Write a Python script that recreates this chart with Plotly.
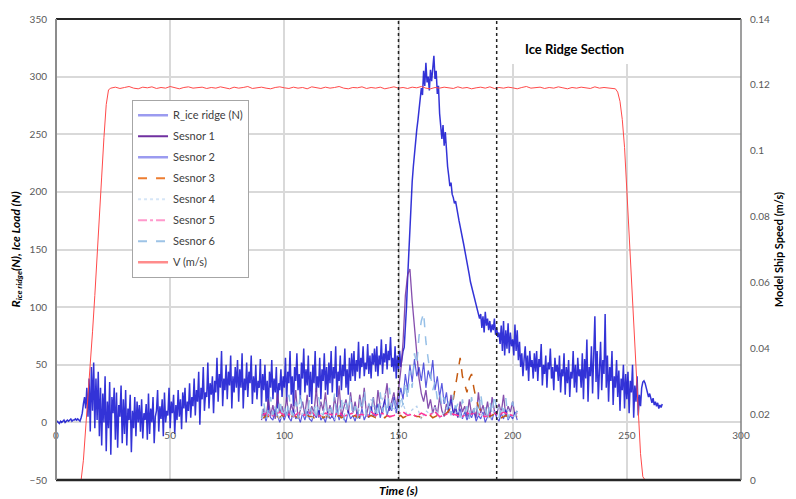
import numpy as np
import plotly.graph_objects as go

# ---------------- data ----------------
# R_ice ridge (N), sampled every 0.5 s starting at t = 0 (one row = 10 s)
R_ridge = [
    0, 1, 0, -1, 1, 0, 1, 2, 0, 1, 2, 1, 2, 3, 1, 2, 2, 3, 2, 3,
    2, 1, 4, 8, 16, 22, 12, 30, 5, 38, -8, 48, 10, 52, -5, 38, 2, 44, -12, 30,
    -20, 25, 0, 40, -25, 18, -5, 35, -28, 22, 8, 30, -15, 26, -22, 15, 5, 32, -18, 20,
    -10, 28, -20, 12, 2, 24, -26, 10, -5, 22, -12, 18, 0, 15, -8, 20, -14, 8, 2, 16,
    -15, 25, -10, 12, 0, 22, -18, 5, 10, 28, -8, 14, 3, 20, -12, 26, 0, 10, 6, 30,
    -5, 18, 8, 24, -10, 15, 2, 28, 5, 20, -6, 26, 12, 30, 0, 18, 10, 34, 4, 22,
    14, 38, 6, 28, 18, 44, -2, 30, 20, 48, 10, 26, 22, 52, 12, 34, 24, 40, 8, 36,
    26, 56, 18, 42, 30, 62, 14, 38, 28, 50, 20, 44, 32, 58, 12, 40, 26, 48, 30, 54,
    18, 46, 30, 60, 12, 38, 28, 52, 22, 44, 34, 58, 16, 40, 26, 50, 20, 36, 30, 55,
    14, 42, 28, 50, 18, 36, 10, 44, 30, 54, 20, 38, 26, 48, 12, 34, 28, 46, 22, 40,
    30, 56, 18, 44, 34, 62, 24, 40, 14, 48, 36, 60, 28, 42, 20, 52, 38, 64, 26, 46,
    32, 58, 22, 44, 16, 50, 34, 62, 26, 40, 30, 56, 20, 46, 36, 60, 28, 48, 24, 52,
    34, 62, 26, 48, 38, 66, 22, 44, 36, 58, 28, 50, 40, 64, 30, 46, 24, 56, 36, 60,
    40, 62, 36, 54, 44, 70, 38, 56, 48, 66, 40, 52, 46, 68, 42, 58, 38, 60, 50, 64,
    44, 66, 40, 58, 50, 72, 42, 60, 52, 68, 46, 62, 54, 74, 48, 56, 44, 66, 38, 58,
    46, 62, 48, 58, 62, 65, 80, 100, 125, 148, 165, 190, 209, 222, 235, 245, 254, 262, 270, 278,
    290, 284, 305, 292, 312, 295, 300, 288, 306, 296, 312, 318, 298, 305, 285, 292, 268, 252, 246, 258,
    240, 252, 232, 222, 214, 205, 208, 198, 195, 190, 192, 185, 180, 175, 170, 166, 160, 155, 150, 146,
    140, 134, 128, 122, 118, 113, 108, 104, 100, 96, 94, 90, 94, 82, 92, 78, 96, 84, 90, 80,
    88, 78, 85, 80, 90, 76, 82, 74, 78, 68, 84, 62, 88, 58, 80, 64, 86, 60, 78, 66,
    72, 58, 85, 62, 80, 54, 70, 48, 60, 40, 55, 66, 45, 58, 36, 62, 48, 54, 38, 60,
    44, 62, 36, 55, 48, 68, 32, 50, 42, 58, 30, 52, 46, 64, 38, 48, 28, 56, 44, 50,
    36, 58, 26, 46, 40, 60, 24, 48, 34, 54, 22, 44, 38, 62, 30, 50, 26, 56, 40, 46,
    30, 60, 20, 55, 38, 72, 18, 48, 40, 66, 25, 58, 92, 35, 62, 20, 50, 70, 28, 54,
    42, 94, 30, 58, 18, 48, 36, 62, 15, 40, 30, 54, 22, 45, 10, 38, 28, 50, 12, 42,
    20, 44, 8, 36, 26, 50, 4, 32, 18, 40, 6, 24, 14, 30, 35, 36, 34, 30, 26, 22,
    25, 20, 17, 21, 15, 18, 14, 17, 12, 15, 13, 16,
]
R_step = 0.5

# Sensors 1, 2, 3, 6 sampled every 1 s from t = 90 s
sensor_start = 90
sensor1 = [
    2, 12, 4, 20, 6, 15, 3, 25, 8, 14,
    5, 22, 4, 16, 9, 28, 3, 12, 18, 6,
    24, 5, 14, 8, 30, 4, 18, 10, 26, 6,
    15, 4, 22, 9, 32, 5, 13, 20, 7, 26,
    8, 18, 4, 24, 12, 30, 6, 16, 10, 22,
    5, 28, 14, 8, 20, 34, 10, 18, 26, 12,
    30, 45, 70, 110, 128, 133, 105, 80, 55, 38,
    25, 18, 28, 12, 20, 8, 15, 6, 22, 10,
    5, 16, 8, 24, 6, 12, 4, 18, 9, 14,
    5, 20, 7, 12, 4, 26, 8, 15, 6, 18,
    4, 22, 10, 6, 16, 8, 24, 5, 14, 9,
    18, 6, 10,
]
sensor2 = [
    3, 8, 1, 10, 4, 2, 12, 5, 0, 7,
    2, 9, 4, 1, 11, 3, 6, 0, 8, 2,
    10, 3, 1, 7, 4, 12, 2, 5, 0, 9,
    3, 6, 1, 11, 2, 8, 4, 0, 10, 3,
    6, 1, 9, 3, 12, 2, 7, 4, 14, 5,
    8, 16, 4, 12, 20, 6, 14, 10, 22, 8,
    18, 30, 20, 42, 28, 50, 35, 55, 40, 48,
    36, 52, 30, 45, 38, 54, 28, 40, 22, 34,
    16, 26, 10, 20, 8, 14, 5, 12, 3, 9,
    2, 8, 4, 10, 1, 6, 3, 9, 0, 5,
    7, 2, 10, 4, 1, 8, 3, 11, 2, 6,
    3, 9, 2,
]
sensor3 = [
    5, 4, 6, 5, 4, 6, 5, 5, 4, 6,
    5, 6, 4, 5, 6, 5, 4, 6, 5, 4,
    6, 5, 5, 4, 6, 5, 6, 4, 5, 5,
    4, 6, 5, 5, 6, 4, 5, 6, 5, 4,
    5, 6, 4, 5, 5, 6, 4, 5, 6, 5,
    4, 5, 6, 5, 4, 6, 5, 5, 4, 6,
    5, 6, 4, 5, 6, 5, 4, 6, 5, 5,
    4, 6, 5, 5, 6, 4, 5, 6, 5, 4,
    6, 8, 10, 14, 20, 32, 45, 56, 40, 32,
    26, 38, 42, 30, 20, 14, 10, 8, 6, 5,
    5, 6, 8, 5, 6, 4, 5, 6, 5, 4,
    6, 5, 5,
]
sensor6 = [
    4, 18, 2, 12, 22, 6, 15, 3, 20, 8,
    14, 2, 24, 10, 5, 18, 3, 26, 9, 12,
    4, 20, 7, 15, 2, 22, 11, 6, 19, 3,
    16, 8, 25, 4, 13, 21, 2, 17, 9, 24,
    6, 14, 3, 20, 10, 28, 5, 16, 8, 22,
    12, 4, 26, 9, 18, 6, 30, 11, 20, 14,
    8, 24, 15, 35, 20, 45, 30, 60, 50, 75,
    88, 95, 70, 55, 40, 28, 35, 20, 26, 14,
    22, 10, 18, 6, 24, 12, 16, 4, 20, 9,
    14, 3, 22, 8, 17, 5, 25, 10, 13, 2,
    19, 7, 24, 11, 4, 16, 9, 21, 3, 12,
    18, 6, 10,
]
# Sensors 4, 5 sampled every 2 s from t = 90 s
sensor4 = [3, 10, 6, 14, 2, 9, 12, 4, 16, 7, 11, 3, 15, 8, 5, 13, 2, 10, 17, 6,
           9, 14, 4, 12, 20, 8, 15, 25, 18, 12, 9, 16, 5, 11, 14, 3, 10, 7, 13, 4,
           9, 15, 6, 11, 3, 12, 8, 14, 5, 10, 2, 9, 13, 6, 11, 4, 8]
sensor5 = [6, 8, 5, 7, 9, 6, 7, 5, 8, 6, 7, 9, 5, 6, 8, 7, 6, 9, 5, 7,
           8, 6, 7, 5, 9, 6, 8, 7, 5, 6, 8, 9, 6, 7, 5, 8, 6, 7, 9, 5,
           6, 8, 7, 6, 5, 8, 7, 9, 6, 5, 7, 8, 6, 9, 7, 6, 8]

# Model ship speed V (m/s)
V_up_time = [0, 11, 12, 13, 14, 15, 16, 17, 18, 19, 20, 21, 22, 23]
V_up = [0, 0, 0.006, 0.015, 0.025, 0.035, 0.045, 0.056, 0.067, 0.079, 0.092, 0.104, 0.114, 0.1185]
V_flat_start, V_flat_step = 24, 2
V_flat = [
    0.1190, 0.1193, 0.1189, 0.1192, 0.1195, 0.1190, 0.1188, 0.1193, 0.1191, 0.1194,
    0.1189, 0.1192, 0.1190, 0.1195, 0.1191, 0.1188, 0.1192, 0.1194, 0.1190, 0.1191,
    0.1193, 0.1189, 0.1192, 0.1190, 0.1194, 0.1191, 0.1188, 0.1193, 0.1190, 0.1192,
    0.1195, 0.1189, 0.1191, 0.1193, 0.1190, 0.1188, 0.1192, 0.1194, 0.1191, 0.1189,
    0.1193, 0.1190, 0.1192, 0.1188, 0.1194, 0.1191, 0.1189, 0.1193, 0.1190, 0.1192,
    0.1195, 0.1190, 0.1188, 0.1192, 0.1191, 0.1194, 0.1189, 0.1192, 0.1190, 0.1193,
    0.1188, 0.1191, 0.1194, 0.1190, 0.1192, 0.1189, 0.1193, 0.1191, 0.1195, 0.1190,
    0.1188, 0.1192, 0.1190, 0.1193, 0.1191, 0.1189, 0.1194, 0.1190, 0.1192, 0.1188,
    0.1191, 0.1193, 0.1190, 0.1194, 0.1189, 0.1192, 0.1190, 0.1193, 0.1191, 0.1188,
    0.1192, 0.1195, 0.1190, 0.1191, 0.1193, 0.1189, 0.1192, 0.1190, 0.1194, 0.1191,
    0.1188, 0.1192, 0.1190, 0.1193, 0.1191, 0.1189, 0.1194, 0.1190, 0.1192, 0.1191,
    0.1190,
]
V_down_time = [245, 246, 247, 248, 249, 250, 251, 252, 253, 254, 255, 256, 257, 258, 260]
V_down = [0.1188, 0.1178, 0.1150, 0.1095, 0.101, 0.088, 0.074, 0.060, 0.046, 0.032, 0.019, 0.008, 0.001, 0, 0]

section_lines = [150, 193]
x_ticks = [0, 50, 100, 150, 200, 250, 300]

# ---------------- build ----------------
t_R = [i * R_step for i in range(len(R_ridge))]
t_s1 = [sensor_start + i for i in range(len(sensor1))]
t_s2 = [sensor_start + i for i in range(len(sensor2))]
t_s3 = [sensor_start + i for i in range(len(sensor3))]
t_s6 = [sensor_start + i for i in range(len(sensor6))]
t_s4 = [sensor_start + 2 * i for i in range(len(sensor4))]
t_s5 = [sensor_start + 2 * i for i in range(len(sensor5))]
V_time = V_up_time + [V_flat_start + V_flat_step * i for i in range(len(V_flat))] + V_down_time
V_val = V_up + V_flat + V_down

FONT = "Lato"
fig = go.Figure()

def add(x, y, color, width=1, dash="solid", yaxis="y"):
    fig.add_trace(go.Scatter(x=x, y=y, mode="lines", showlegend=False, yaxis=yaxis,
                             line=dict(color=color, width=width, dash=dash), hoverinfo="skip"))

add(t_R, R_ridge, "rgba(0,0,205,0.8)", 1.5)
add(t_s1, sensor1, "rgba(112,48,160,0.85)", 1.3)
add(t_s2, sensor2, "rgba(20,20,210,0.7)", 1.2)
add(t_s3, sensor3, "#c55a11", 1.5, "dash")
add(t_s4, sensor4, "#b4cfee", 1.3, "dot")
add(t_s5, sensor5, "#ff3399", 1.5, "dashdot")
add(t_s6, sensor6, "rgba(140,185,228,0.9)", 1.5, "dash")
add(V_time, V_val, "#ff4a4a", 1, yaxis="y2")

legend_items = [
    ("R_ice ridge (N)", "#9b9bf0", "solid", 2.5),
    ("Sesnor 1", "#7030a0", "solid", 2),
    ("Sesnor 2", "#9b9bf0", "solid", 2.5),
    ("Sesnor 3", "#ed7d31", "dash", 2),
    ("Sesnor 4", "#d6e6f7", "dot", 2),
    ("Sesnor 5", "#ff99cc", "dashdot", 2),
    ("Sesnor 6", "#9dc3e6", "dash", 2),
    ("V (m/s)", "#ff8c8c", "solid", 2.5),
]
for i, (name, color, dash, w) in enumerate(legend_items):
    fig.add_trace(go.Scatter(x=[None], y=[None], mode="lines", name=name, legendgroup=f"g{i}",
                             line=dict(color=color, dash=dash, width=w)))

shapes = []
for xv in section_lines:
    shapes.append(dict(type="line", xref="x", yref="paper", x0=xv, x1=xv, y0=0, y1=1,
                       line=dict(color="#222222", width=1.5, dash="dot"), layer="above"))
# white box behind section title
shapes.append(dict(type="rect", xref="x", yref="y", x0=197, x1=257, y0=311, y1=350,
                   fillcolor="white", line=dict(width=0), layer="between"))
# frame
shapes += [
    dict(type="line", xref="paper", yref="paper", x0=0, x1=1, y0=0, y1=0, line=dict(color="#262626", width=2.5), layer="above"),
    dict(type="line", xref="paper", yref="paper", x0=0, x1=1, y0=1, y1=1, line=dict(color="#262626", width=2), layer="above"),
    dict(type="line", xref="paper", yref="paper", x0=0, x1=0, y0=0, y1=1, line=dict(color="#8c8c8c", width=2), layer="above"),
    dict(type="line", xref="paper", yref="paper", x0=1, x1=1, y0=0, y1=1, line=dict(color="#7f7f7f", width=1.5), layer="above"),
]

tickfont = dict(family=FONT, size=10, color="#595959")
fig.update_layout(
    width=796, height=499,
    margin=dict(l=56, r=48, t=16, b=19),
    paper_bgcolor="white", plot_bgcolor="white",
    font=dict(family=FONT, color="#262626"),
    showlegend=True,
    legend=dict(x=0.111, y=0.825, xanchor="left", yanchor="top", bgcolor="white",
                bordercolor="#a6a6a6", borderwidth=1, font=dict(family=FONT, size=11, color="#404040"),
                tracegroupgap=2, itemwidth=30),
    xaxis=dict(range=[0, 300], tickvals=x_ticks, showgrid=True, gridcolor="#d9d9d9", gridwidth=1.5,
               zeroline=False, showline=False, ticks="", tickfont=tickfont,
               anchor="free", position=0.125, ticklabelstandoff=6),
    yaxis=dict(range=[-50, 350], dtick=50, showgrid=True, gridcolor="#d9d9d9", gridwidth=1.5,
               zeroline=False, showline=False, ticks="", tickfont=tickfont, ticklabelstandoff=8,
               title=dict(text="<b><i>R<sub>ice ridge</sub>(N), Ice Load (N)</i></b>",
                          font=dict(family=FONT, size=12, color="#000000"), standoff=6)),
    yaxis2=dict(range=[0, 0.14], dtick=0.02, overlaying="y", side="right", showgrid=False,
                zeroline=False, showline=False, ticks="", tickfont=tickfont, ticklabelstandoff=8,
                title=dict(text="<b>Model Ship Speed (m/s)</b>",
                           font=dict(family=FONT, size=11, color="#000000"), standoff=6)),
    shapes=shapes,
    annotations=[
        dict(text="<b>Ice Ridge Section</b>", x=227, y=324, xref="x", yref="y", showarrow=False,
             font=dict(family=FONT, size=13, color="#000000")),
        dict(text="<b><i>Time (s)</i></b>", x=0.5, y=-0.022, xref="paper", yref="paper",
             showarrow=False, yanchor="middle", font=dict(family=FONT, size=12, color="#000000")),
    ],
)

fig.write_html("out.html")
